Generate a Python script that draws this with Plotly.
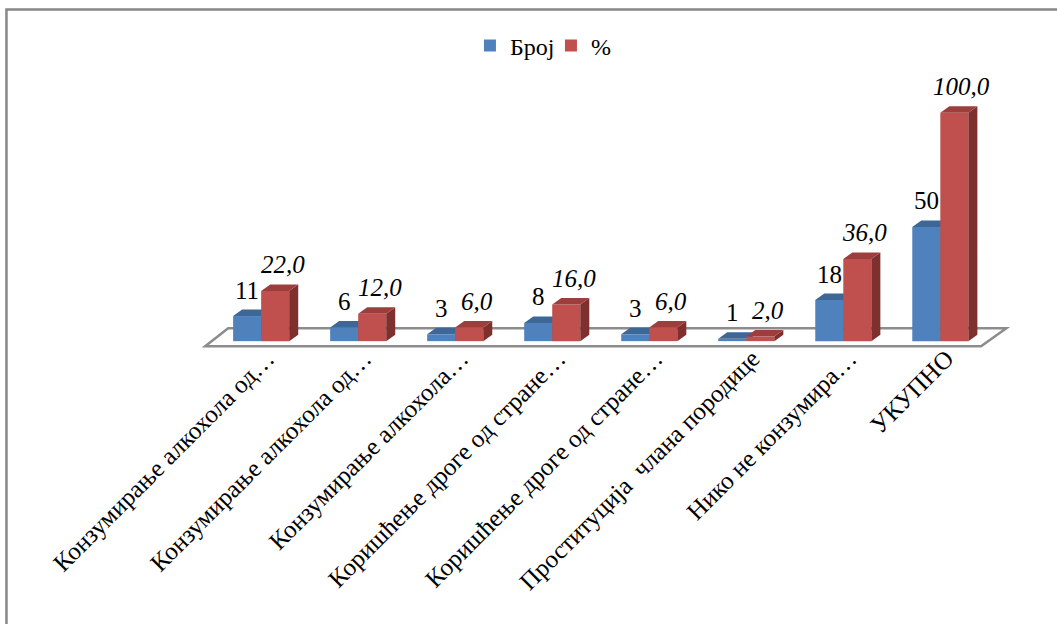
import plotly.graph_objects as go

# ---- data ----
categories = [
    "Конзумирање алкохола од…",
    "Конзумирање алкохола од…",
    "Конзумирање алкохола…",
    "Коришћење дроге од стране…",
    "Коришћење дроге од стране…",
    "Проституција  члана породице",
    "Нико не конзумира…",
    "УКУПНО",
]
count_values = [11, 6, 3, 8, 3, 1, 18, 50]
percent_values = [22.0, 12.0, 6.0, 16.0, 6.0, 2.0, 36.0, 100.0]
count_labels = [str(v) for v in count_values]
percent_labels = [f"{v:.1f}".replace(".", ",") for v in percent_values]
series_names = ["Број", "%"]

# ---- style ----
FONT = "Liberation Serif"
BLUE, BLUE_TOP, BLUE_SIDE = "#4F81BD", "#3D6797", "#2F5078"
RED, RED_TOP, RED_SIDE = "#C0504D", "#9C3F3C", "#7E302E"
BAR_W = 0.289   # width of one bar (category units)
DX = 0.093      # 3-D depth offset in x (category units)
DY = 2.85       # 3-D depth offset in y (value units)

n = len(categories)
pos = list(range(n))


def faces(values, x_left):
    """Build top and side face polygons of pseudo-3D bars from the data."""
    tx, ty, sx, sy = [], [], [], []
    for i, v in zip(pos, values):
        xl = i + x_left
        xr = xl + BAR_W
        tx += [xl, xr, xr + DX, xl + DX, xl, None]
        ty += [v, v, v + DY, v + DY, v, None]
        sx += [xr, xr + DX, xr + DX, xr, xr, None]
        sy += [0, DY, v + DY, v, 0, None]
    return tx, ty, sx, sy


fig = go.Figure()

# blue series on main subplot
btx, bty, bsx, bsy = faces(count_values, -BAR_W)
fig.add_trace(go.Bar(x=pos, y=count_values, width=BAR_W, offset=-BAR_W,
                     marker=dict(color=BLUE, line=dict(width=0)),
                     name=series_names[0], hoverinfo="skip"))
fig.add_trace(go.Scatter(x=bsx, y=bsy, fill="toself", fillcolor=BLUE_SIDE,
                         mode="lines", line=dict(width=0), showlegend=False, hoverinfo="skip"))
fig.add_trace(go.Scatter(x=btx, y=bty, fill="toself", fillcolor=BLUE_TOP,
                         mode="lines", line=dict(width=0), showlegend=False, hoverinfo="skip"))

# red series on overlaid subplot (drawn above the blue one)
rtx, rty, rsx, rsy = faces(percent_values, 0.0)
fig.add_trace(go.Bar(x=pos, y=percent_values, width=BAR_W, offset=0.0,
                     marker=dict(color=RED, line=dict(width=0)),
                     name=series_names[1], hoverinfo="skip", xaxis="x2", yaxis="y2"))
fig.add_trace(go.Scatter(x=rsx, y=rsy, fill="toself", fillcolor=RED_SIDE,
                         mode="lines", line=dict(width=0), showlegend=False, hoverinfo="skip",
                         xaxis="x2", yaxis="y2"))
fig.add_trace(go.Scatter(x=rtx, y=rty, fill="toself", fillcolor=RED_TOP,
                         mode="lines", line=dict(width=0), showlegend=False, hoverinfo="skip",
                         xaxis="x2", yaxis="y2"))

# data labels
annotations = []
for i, v, t in zip(pos, count_values, count_labels):
    annotations.append(dict(x=i - BAR_W / 2, y=v + DY, text=t, showarrow=False,
                            xref="x", yref="y", yanchor="bottom", yshift=4,
                            font=dict(family=FONT, size=25, color="black")))
for i, v, t in zip(pos, percent_values, percent_labels):
    annotations.append(dict(x=i + BAR_W / 2 + DX / 2, y=v + DY, text=f"<i>{t}</i>", showarrow=False,
                            xref="x", yref="y", yanchor="bottom", yshift=4, xshift=3,
                            font=dict(family=FONT, size=25, color="black")))

# floor of the 3-D plot
fl, bl = -0.577, -0.34
br, fr = (n - 1) + 0.68, (n - 1) + 0.42
yf, yb = -2.19, 5.69
floor_path = f"M {fl} {yf} L {bl} {yb} L {br} {yb} L {fr} {yf} Z"

shapes = [
    dict(type="path", path=floor_path, xref="x", yref="y", layer="below",
         line=dict(color="#8C8C8C", width=2.5), fillcolor="white"),
    dict(type="rect", xref="paper", yref="paper", x0=-0.2387, y0=-1.1, x1=1.06, y1=1.312,
         line=dict(color="#878787", width=2.5), layer="above"),
]

XR = [-0.62, 7.78]
YR = [-3, 110]
axis_common = dict(showgrid=False, zeroline=False, showline=False, fixedrange=True)

fig.update_layout(
    width=1057, height=624,
    margin=dict(l=201, r=41, t=90, b=276),
    paper_bgcolor="white", plot_bgcolor="white",
    barmode="overlay",
    font=dict(family=FONT, size=25, color="black"),
    xaxis=dict(range=XR, tickmode="array", tickvals=pos, ticktext=categories,
               tickangle=-45, ticks="", ticklabelshift=6, ticklabelstandoff=-10,
               tickfont=dict(family=FONT, size=25, color="black"),
               **axis_common),
    yaxis=dict(range=YR, visible=False, **axis_common),
    xaxis2=dict(range=XR, overlaying="x", visible=False, **axis_common),
    yaxis2=dict(range=YR, overlaying="y", visible=False, **axis_common),
    legend=dict(orientation="h", x=0.330, y=1.171, xanchor="left", yanchor="middle",
                itemwidth=30, entrywidth=36,
                font=dict(family=FONT, size=24, color="black"), bgcolor="rgba(0,0,0,0)"),
    annotations=annotations,
    shapes=shapes,
)

fig.write_html("out.html", config={"displayModeBar": False},
               post_script="document.body.style.margin='0';document.body.style.overflow='hidden';")
